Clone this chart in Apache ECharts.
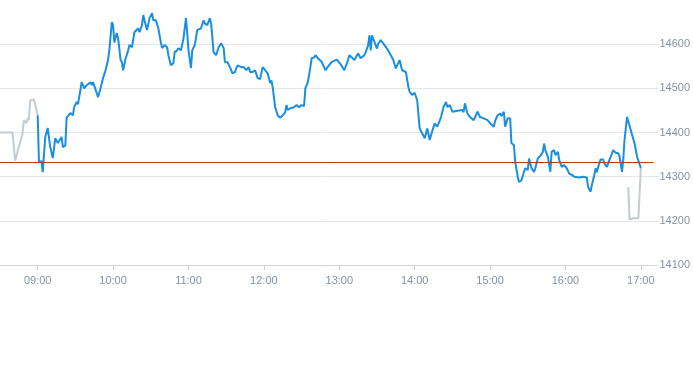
<!DOCTYPE html>
<html>
<head>
<meta charset="utf-8">
<script src="https://cdn.jsdelivr.net/npm/echarts@6/dist/echarts.min.js"></script>
<style>html,body{margin:0;padding:0;background:#fff;}#c{width:693px;height:365px;}</style>
</head>
<body>
<div id="c"></div>
<script>
const day = '2024-01-02 ';
const prevClose = 14333;
const preTimes = ['08:30','08:40','08:42','08:48','08:49','08:51','08:52','08:53','08:54','08:57','08:58','09:00'];
const preValues = [14400,14400,14336,14399,14428,14421,14433,14428,14473,14475,14473,14439];
const postTimes = ['16:50','16:51','16:54','16:58','17:00'];
const postValues = [14276,14203,14206,14206,14319];
const blueTimes = ['09:00','09:01','09:03','09:04','09:06','09:08','09:10','09:12','09:14','09:16','09:19','09:20','09:22','09:23','09:26','09:28','09:29','09:31','09:32','09:34','09:35','09:37','09:39','09:42','09:43','09:44','09:47','09:48','09:50','09:52','09:54','09:56','09:57','09:59',
'10:00','10:01','10:02','10:03','10:04','10:06','10:07','10:08','10:10','10:12','10:13','10:15','10:17','10:20','10:21','10:23','10:24','10:25','10:27','10:28','10:29','10:31','10:32','10:34','10:36','10:38','10:39','10:41','10:43','10:44','10:46','10:48','10:49','10:51','10:52','10:54','10:56','10:58','10:59',
'11:00','11:02','11:03','11:05','11:07','11:08','11:10','11:12','11:13','11:15','11:17','11:18','11:20','11:22','11:24','11:26','11:28','11:29','11:31','11:33','11:35','11:37','11:39','11:42','11:44','11:46','11:48','11:49','11:51','11:53','11:55','11:57','11:59',
'12:01','12:03','12:05','12:06','12:07','12:09','12:11','12:13','12:15','12:17','12:18','12:19','12:21','12:24','12:26','12:28','12:30','12:32','12:33','12:35','12:37','12:38','12:40','12:41','12:43','12:46','12:47','12:49','12:51','12:54','12:58',
'13:01','13:04','13:07','13:08','13:10','13:12','13:15','13:17','13:20','13:21','13:23','13:24','13:25','13:26','13:27','13:28','13:30','13:31','13:33','13:36','13:38','13:41','13:43','13:45','13:48','13:50','13:51','13:53','13:55','13:56','13:57','13:58',
'14:00','14:02','14:04','14:05','14:08','14:10','14:12','14:13','14:16','14:18','14:21','14:23','14:25','14:26','14:28','14:30','14:34','14:38','14:39','14:40','14:42','14:44','14:47','14:50','14:52','14:54','14:58',
'15:00','15:03','15:04','15:06','15:08','15:09','15:11','15:12','15:14','15:16','15:17','15:19','15:20','15:22','15:23','15:25','15:27','15:28','15:30','15:31','15:33','15:35','15:36','15:38','15:40','15:42','15:43','15:44','15:46','15:48','15:49','15:51','15:52','15:54','15:55','15:57','15:59',
'16:01','16:03','16:05','16:07','16:11','16:14','16:17','16:18','16:20','16:21','16:23','16:24','16:25','16:26','16:28','16:30','16:31','16:33','16:35','16:36','16:38','16:40','16:42','16:43','16:45','16:46','16:47','16:49','16:52','16:55','16:57','17:00'];
const blueValues = [14439,14333,14335,14310,14390,14410,14367,14342,14387,14376,14390,14367,14371,14433,14444,14439,14457,14469,14464,14496,14514,14500,14507,14514,14507,14514,14489,14480,14500,14523,14541,14564,14586,14650,
14643,14604,14616,14625,14613,14564,14559,14541,14568,14586,14598,14593,14627,14636,14627,14643,14666,14654,14632,14632,14659,14670,14654,14654,14636,14604,14591,14598,14593,14575,14552,14557,14582,14586,14591,14586,14613,14659,14625,
14586,14546,14586,14598,14632,14636,14636,14654,14647,14643,14659,14647,14582,14575,14593,14602,14591,14559,14559,14548,14534,14537,14552,14548,14548,14541,14548,14537,14537,14541,14523,14521,14548,
14541,14534,14512,14518,14503,14457,14439,14433,14439,14446,14462,14451,14455,14457,14462,14457,14462,14460,14500,14514,14548,14568,14570,14575,14568,14560,14557,14541,14549,14560,14565,
14555,14541,14564,14575,14570,14564,14579,14568,14575,14582,14598,14620,14586,14620,14616,14605,14590,14601,14609,14598,14590,14575,14564,14545,14564,14541,14545,14537,14503,14492,14492,14485,
14490,14473,14409,14410,14387,14409,14383,14394,14421,14413,14435,14458,14469,14458,14462,14447,14449,14451,14446,14466,14443,14435,14428,14447,14435,14433,14428,
14421,14413,14426,14439,14443,14437,14447,14413,14432,14432,14376,14371,14334,14300,14288,14292,14311,14319,14315,14341,14319,14311,14319,14341,14347,14356,14375,14360,14345,14311,14356,14360,14349,14356,14338,14322,14326,
14319,14307,14304,14300,14298,14300,14298,14277,14266,14281,14304,14319,14310,14322,14339,14339,14330,14322,14338,14345,14360,14354,14353,14347,14311,14338,14383,14435,14405,14375,14345,14319];

const toData = (ts, vs) => ts.map((t, i) => [day + t, vs[i]]);

const chart = echarts.init(document.getElementById('c'), null, {renderer: 'canvas'});
chart.setOption({
  animation: false,
  backgroundColor: '#fff',
  grid: {left: 0, right: 36, top: 0, bottom: 100, containLabel: false},
  xAxis: {
    type: 'time',
    min: day + '08:30',
    max: day + '17:10',
    minInterval: 3600 * 1000,
    maxInterval: 3600 * 1000,
    axisLine: {lineStyle: {color: '#cfd3d8'}},
    axisTick: {show: true, length: 5, lineStyle: {color: '#cfd3d8'}},
    axisLabel: {formatter: '{HH}:{mm}', color: '#8392a5', fontSize: 11, margin: 10, fontFamily: 'Liberation Sans, Arial, sans-serif', showMinLabel: false, showMaxLabel: false},
    splitLine: {show: false}
  },
  yAxis: {
    type: 'value',
    position: 'right',
    min: 14100,
    max: 14700,
    interval: 100,
    axisLine: {show: false},
    axisTick: {show: true, length: 5, lineStyle: {color: '#dde1e5'}},
    axisLabel: {color: '#8392a5', fontSize: 11, margin: 6, showMaxLabel: false, fontFamily: 'Liberation Sans, Arial, sans-serif', formatter: v => String(v)},
    splitLine: {show: true, showMaxLine: false, lineStyle: {color: '#e3e6ea', width: 1}}
  },
  series: [
    {
      type: 'line', name: 'pre', data: toData(preTimes, preValues),
      showSymbol: false, symbol: 'none',
      lineStyle: {color: '#c3cbd2', width: 2}, z: 2
    },
    {
      type: 'line', name: 'post', data: toData(postTimes, postValues),
      showSymbol: false, symbol: 'none',
      lineStyle: {color: '#c3cbd2', width: 2}, z: 2
    },
    {
      type: 'line', name: 'price', data: toData(blueTimes, blueValues),
      showSymbol: false, symbol: 'none',
      lineStyle: {color: '#1a8fe0', width: 2}, z: 3,
      markLine: {
        silent: true, symbol: 'none', label: {show: false},
        lineStyle: {color: '#c9302c', width: 1, type: 'solid'},
        data: [{yAxis: prevClose}]
      }
    }
  ]
});
</script>
</body>
</html>
